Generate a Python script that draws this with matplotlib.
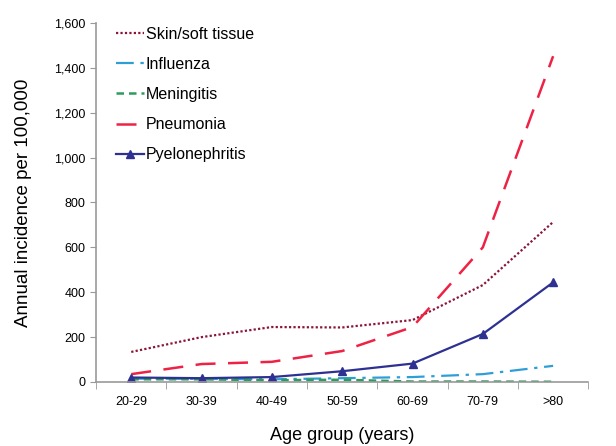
import numpy as np
import matplotlib
matplotlib.use('Agg')
import matplotlib.pyplot as plt

plt.rcParams['font.family'] = ['Liberation Sans', 'DejaVu Sans']

ages = ['20-29', '30-39', '40-49', '50-59', '60-69', '70-79', '>80']
skin = [134, 200, 245, 243, 276, 432, 713]
influenza = [15, 14, 12, 17, 22, 35, 72]
meningitis = [12, 12, 8, 10, 2, 2, 1]
pneumonia = [35, 80, 90, 138, 245, 600, 1452]
pyelo = [20, 17, 22, 48, 82, 214, 444]

fig = plt.figure(figsize=(6.16, 4.46), dpi=100)
ax = fig.add_axes([0.156, 0.1435, 0.799, 0.805])

x = np.arange(len(ages))
ax.plot(x, skin, color='#8B1538', linestyle=(0, (1, 1)), lw=1.6, label='Skin/soft tissue')
ax.plot(x, influenza, color='#2E9FD6', linestyle=(0, (8, 3, 1.5, 3)), lw=1.6, label='Influenza')
ax.plot(x, meningitis, color='#2E9B5E', linestyle=(0, (3, 2)), lw=1.8, label='Meningitis')
ax.plot(x, pneumonia, color='#EE2244', linestyle=(0, (8, 5)), lw=1.8, label='Pneumonia')
ax.plot(x, pyelo, color='#2E3192', lw=1.6, marker='^', markersize=6, label='Pyelonephritis')

ax.set_xlim(-0.5, 6.5)
ax.set_ylim(0, 1600)
ax.set_yticks(np.arange(0, 1601, 200))
ax.set_yticklabels(['{:,}'.format(v) for v in range(0, 1601, 200)])
ax.set_xticks(x)
ax.set_xticklabels(ages)
ax.set_xticks(np.arange(-0.5, 7, 1), minor=True)
ax.tick_params(axis='x', which='major', length=0, pad=10, labelsize=9)
ax.tick_params(axis='x', which='minor', length=5, color='#999999', direction='out')
ax.tick_params(axis='y', length=4, color='#999999', labelsize=9)

for s in ['top', 'right']:
    ax.spines[s].set_visible(False)
for s in ['left', 'bottom']:
    ax.spines[s].set_color('#999999')
    ax.spines[s].set_linewidth(1.2)

ax.set_xlabel('Age group (years)', fontsize=13)
ax.xaxis.set_label_coords(0.5, -0.125)
ax.set_ylabel('Annual incidence per 100,000', fontsize=13.5, labelpad=16)

ax.legend(loc='upper left', frameon=False, fontsize=11.5, handlelength=1.7,
          handletextpad=0.15, labelspacing=0.95, bbox_to_anchor=(0.012, 1.03))

fig.savefig('out.png', dpi=100)
